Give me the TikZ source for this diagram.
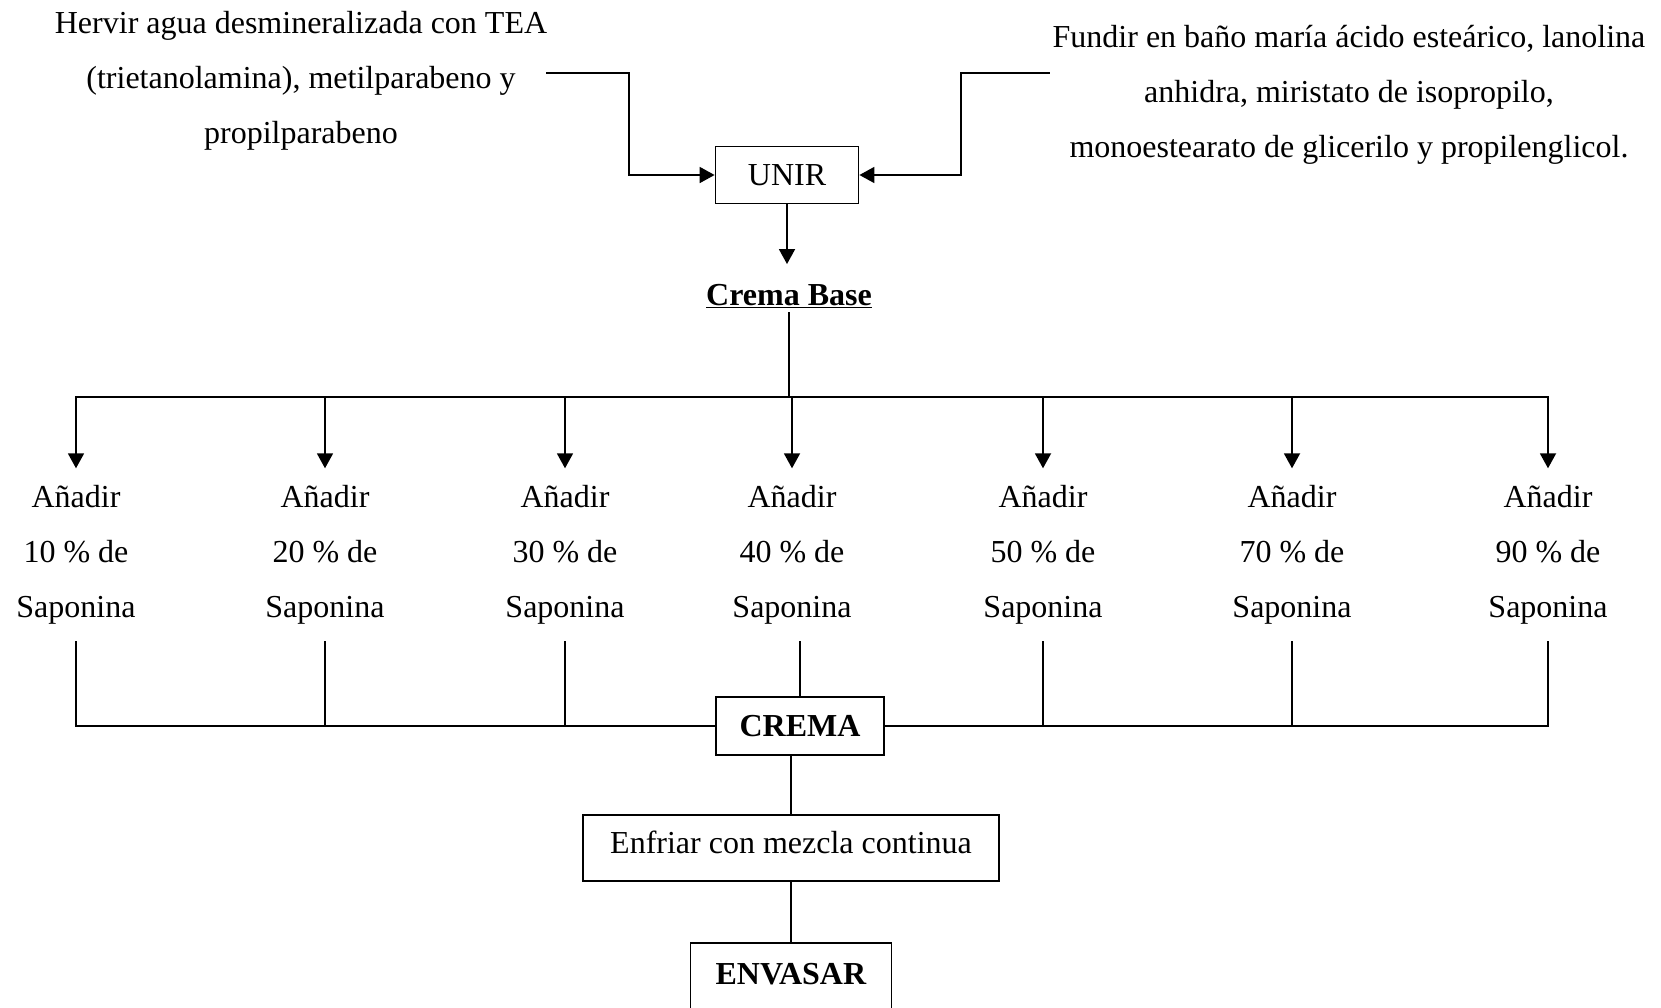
\documentclass[tikz,border=0pt]{standalone}
\usepackage{fontspec}
\setmainfont{Liberation Serif}
\usetikzlibrary{arrows.meta, positioning}

\begin{document}
\begin{tikzpicture}[x=1pt, y=-1pt,
                  every node/.style={font=\fontsize{32}{55}\selectfont, align=center},
                  bx/.style={draw, line width=1.8pt, inner sep=0pt},
                  ln/.style={line width=1.8pt, line cap=rect},
                  ar/.style={ln, -{Triangle[width=16pt, length=15pt]}}]

    \useasboundingbox (0,0) rectangle (1661,1007); % same size as the original figure

    \node [inner xsep=0pt] (hervir) at (301,81) {Hervir agua desmineralizada con TEA\\(trietanolamina), metilparabeno y\\propilparabeno};
    \node (fundir) at (1349,95) {Fundir en baño maría ácido esteárico, lanolina\\anhidra, miristato de isopropilo,\\monoestearato de glicerilo y propilenglicol.};
    \node [bx, minimum width=143pt, minimum height=57pt] (unir) at (787,175) {UNIR};
    \node [inner sep=5pt] (base) at (789,296) {\underline{\textbf{Crema Base}}};

    \foreach \i/\x/\p in {1/76/10, 2/325/20, 3/565/30, 4/792/40, 5/1043/50, 6/1292/70, 7/1548/90}{
        \node [inner ysep=17pt] (add\i) at (\x,555) {Añadir\\\p\ \% de\\Saponina};
        \coordinate (t\i) at (\x,397);
        \coordinate (b\i) at (\x,726);
    }

    \node [bx, minimum width=168pt, minimum height=58pt] (crema) at (800,726) {\textbf{CREMA}};
    \node [bx, minimum width=416pt, minimum height=66pt, text depth=12pt] (enfriar) at (791,848) {Enfriar con mezcla continua};
    \node [bx, minimum width=201pt, anchor=north, inner ysep=20pt, text depth=30pt] (envasar) at (791,942) {\textbf{ENVASAR}};

    \draw [ar] ([yshift=8pt]hervir.east) -- ++(82,0) |- (unir.west);
    \draw [ar] ([yshift=22pt]fundir.west) -- ++(-88,0) |- (unir.east);
    \draw [ar, shorten >=15pt] (unir.south) -- (unir.south |- base.north);

    % top bus
    \draw [ln] (base.south) -- (base.south |- t1);
    \draw [ln] (t1) -- (t7);
    \foreach \i in {1,...,7} \draw [ar] (t\i) -- (add\i.north);

    % bottom bus
    \draw [ln] (add1.south) |- (crema.west);
    \draw [ln] (crema.east) -| (add7.south);
    \foreach \i in {2,3,5,6} \draw [ln] (add\i.south) -- (b\i);
    \draw [ln] (crema.north |- add4.south) -- (crema.north);

    \draw [ln] (enfriar.north |- crema.south) -- (enfriar.north);
    \draw [ln] (enfriar.south) -- (envasar.north);

\end{tikzpicture}
\end{document}
